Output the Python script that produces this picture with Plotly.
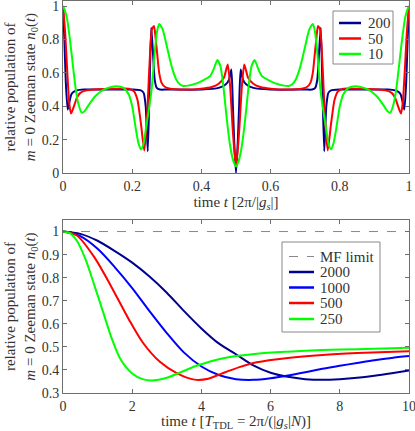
import plotly.graph_objects as go

# ---- top panel: n0(t) over one period, N = 200, 50, 10
t_200 = [0, 0.004, 0.008, 0.0135, 0.018, 0.024, 0.03, 0.04, 0.06, 0.1, 0.2, 0.225, 0.233, 0.239, 0.245, 0.25,
         0.255, 0.26, 0.265, 0.271, 0.28, 0.3, 0.4, 0.45, 0.47, 0.48, 0.4866, 0.491, 0.495, 0.5,
         0.505, 0.509, 0.5134, 0.52, 0.53, 0.55, 0.6, 0.7, 0.72, 0.729, 0.735, 0.74, 0.745, 0.75, 0.755,
         0.761, 0.767, 0.775, 0.8, 0.9, 0.94, 0.96, 0.97, 0.976, 0.982, 0.9865, 0.992, 0.996, 1.0]
n_200 = [1.0, 0.80, 0.55, 0.38, 0.42, 0.47, 0.485, 0.495, 0.5, 0.5, 0.5, 0.495, 0.48, 0.40, 0.13, 0.50,
         0.87, 0.72, 0.56, 0.51, 0.5, 0.5, 0.5, 0.51, 0.53, 0.56, 0.62, 0.40, 0.18, 0.0,
         0.18, 0.40, 0.62, 0.56, 0.53, 0.51, 0.5, 0.5, 0.5, 0.51, 0.56, 0.72, 0.87, 0.50, 0.13,
         0.40, 0.48, 0.495, 0.5, 0.5, 0.5, 0.495, 0.485, 0.47, 0.42, 0.38, 0.55, 0.80, 1.0]

t_50 = [0, 0.006, 0.012, 0.018, 0.023, 0.03, 0.04, 0.05, 0.068, 0.09, 0.15, 0.19, 0.205, 0.215, 0.225, 0.235,
        0.242, 0.25, 0.257, 0.263, 0.268, 0.272, 0.278, 0.285, 0.295, 0.31, 0.35, 0.4, 0.43, 0.45, 0.465,
        0.476, 0.483, 0.49, 0.495, 0.5,
        0.505, 0.51, 0.517, 0.524, 0.535, 0.55, 0.57, 0.6, 0.65, 0.69, 0.705, 0.715, 0.722, 0.728, 0.732,
        0.737, 0.743, 0.75, 0.758, 0.765, 0.775, 0.785, 0.795, 0.81, 0.85, 0.91, 0.932, 0.95, 0.96, 0.97,
        0.977, 0.982, 0.988, 0.994, 1.0]
n_50 = [1.0, 0.85, 0.62, 0.42, 0.357, 0.39, 0.45, 0.48, 0.495, 0.5, 0.505, 0.505, 0.49, 0.44, 0.30, 0.135,
        0.30, 0.65, 0.86, 0.88, 0.80, 0.72, 0.60, 0.54, 0.515, 0.505, 0.5, 0.505, 0.515, 0.535, 0.57,
        0.65, 0.52, 0.28, 0.14, 0.05,
        0.14, 0.28, 0.52, 0.65, 0.57, 0.535, 0.515, 0.505, 0.5, 0.505, 0.515, 0.54, 0.60, 0.72, 0.80,
        0.88, 0.86, 0.65, 0.30, 0.135, 0.30, 0.44, 0.49, 0.505, 0.505, 0.5, 0.495, 0.48, 0.45, 0.39,
        0.357, 0.42, 0.62, 0.85, 1.0]

t_10 = [0, 0.006, 0.012, 0.02, 0.03, 0.037, 0.045, 0.054, 0.062, 0.075, 0.092, 0.11, 0.13, 0.155, 0.175,
        0.19, 0.2, 0.21, 0.218, 0.225, 0.232, 0.24, 0.256, 0.265, 0.272, 0.278, 0.288, 0.3, 0.309, 0.318,
        0.328, 0.338, 0.348, 0.365, 0.386, 0.405, 0.425, 0.437, 0.446, 0.455, 0.463, 0.47, 0.478, 0.485,
        0.492, 0.5,
        0.508, 0.515, 0.522, 0.53, 0.537, 0.545, 0.554, 0.563, 0.575, 0.595, 0.614, 0.635, 0.652, 0.662,
        0.672, 0.682, 0.691, 0.7, 0.712, 0.722, 0.728, 0.735, 0.744, 0.76, 0.768, 0.775, 0.782, 0.79, 0.8,
        0.81, 0.825, 0.845, 0.87, 0.89, 0.908, 0.925, 0.938, 0.946, 0.955, 0.963, 0.97, 0.98, 0.988,
        0.994, 1.0]
n_10 = [1.0, 0.97, 0.92, 0.80, 0.62, 0.50, 0.41, 0.362, 0.37, 0.41, 0.457, 0.49, 0.51, 0.52, 0.51,
        0.47, 0.40, 0.27, 0.18, 0.142, 0.17, 0.27, 0.50, 0.72, 0.85, 0.893, 0.86, 0.76, 0.68, 0.61,
        0.557, 0.53, 0.521, 0.525, 0.537, 0.555, 0.58, 0.63, 0.677, 0.64, 0.53, 0.39, 0.24, 0.14,
        0.075, 0.04,
        0.075, 0.14, 0.24, 0.39, 0.53, 0.64, 0.677, 0.63, 0.58, 0.555, 0.537, 0.525, 0.521, 0.53,
        0.557, 0.61, 0.68, 0.76, 0.86, 0.893, 0.85, 0.72, 0.50, 0.27, 0.17, 0.142, 0.18, 0.27, 0.40,
        0.47, 0.51, 0.52, 0.51, 0.49, 0.457, 0.41, 0.37, 0.362, 0.41, 0.50, 0.62, 0.80, 0.92,
        0.97, 1.0]

# ---- bottom panel: decay in units of T_TDL, N = 2000, 1000, 500, 250
T_2000 = [0, 0.5, 1, 1.5, 2, 2.5, 3, 3.5, 4, 4.5, 5, 5.5, 6, 6.5, 7, 7.5, 8, 8.5, 9, 9.5, 10]
n_2000 = [1.0, 0.99, 0.96, 0.915, 0.865, 0.805, 0.735, 0.655, 0.58, 0.515, 0.468, 0.42, 0.388, 0.37,
          0.36, 0.357, 0.36, 0.366, 0.375, 0.386, 0.398]
T_1000 = [0, 0.5, 1, 1.5, 2, 2.5, 3, 3.5, 4, 4.5, 5, 5.5, 6, 6.5, 7, 7.5, 8, 8.5, 9, 9.5, 10]
n_1000 = [1.0, 0.98, 0.925, 0.845, 0.755, 0.655, 0.56, 0.475, 0.415, 0.378, 0.36, 0.357, 0.364, 0.376,
          0.39, 0.405, 0.418, 0.43, 0.442, 0.452, 0.46]
T_500 = [0, 0.4, 0.9, 1.4, 1.9, 2.3, 2.8, 3.3, 3.8, 4.2, 4.6, 5.1, 5.6, 6.5, 7.5, 8.5, 10]
n_500 = [1.0, 0.983, 0.89, 0.76, 0.62, 0.52, 0.435, 0.385, 0.358, 0.362, 0.385, 0.412, 0.433, 0.452,
         0.465, 0.473, 0.481]
T_250 = [0, 0.2, 0.4, 0.65, 0.9, 1.15, 1.4, 1.65, 2.0, 2.3, 2.65, 3.0, 3.4, 3.9, 4.6, 5.6, 6.5, 7.5, 8.5, 10]
n_250 = [1.0, 0.993, 0.96, 0.88, 0.77, 0.655, 0.54, 0.45, 0.385, 0.36, 0.355, 0.366, 0.39, 0.42, 0.45,
         0.47, 0.479, 0.486, 0.49, 0.496]
T_mf = [0, 10]
n_mf = [1, 1]

NAVY, BLUE, RED, GREEN, MFGRAY = '#00008f', '#0000ff', '#ff0000', '#00ff00', '#888888'
FONT = 'Liberation Serif, DejaVu Serif, serif'
FRAME = '#6e6e6e'

W, H = 415, 431
ML, MR, MT, MB = 63, 6, 1, 38


def px(x):   # figure pixel -> paper x
    return (x - ML) / (W - ML - MR)


def py(y):   # figure pixel -> paper y
    return (H - MB - y) / (H - MT - MB)


top_series = [(t_200, n_200, '200', NAVY), (t_50, n_50, '50', RED), (t_10, n_10, '10', GREEN)]
bot_series = [(T_2000, n_2000, '2000', NAVY), (T_1000, n_1000, '1000', BLUE),
              (T_500, n_500, '500', RED), (T_250, n_250, '250', GREEN)]

fig = go.Figure()

for t, n, name, col in top_series:
    fig.add_trace(go.Scatter(x=t, y=n, mode='lines', name=name, xaxis='x', yaxis='y', showlegend=False,
                             line=dict(color=col, width=2, shape='spline', smoothing=0.6)))

fig.add_trace(go.Scatter(x=T_mf, y=n_mf, mode='lines', name='MF limit', xaxis='x2', yaxis='y2',
                         showlegend=False, line=dict(color=MFGRAY, width=1, dash='dash')))
for t, n, name, col in bot_series:
    fig.add_trace(go.Scatter(x=t, y=n, mode='lines', name=name, xaxis='x2', yaxis='y2', showlegend=False,
                             line=dict(color=col, width=2, shape='spline', smoothing=0.8)))

# hand-built legend boxes (matplotlib-style compact spacing)
shapes, annots = [], []


def legend_box(x0, y0, x1, y1, rows, line_x0, line_x1, text_x):
    shapes.append(dict(type='rect', xref='paper', yref='paper', x0=px(x0), x1=px(x1), y0=py(y1), y1=py(y0),
                       line=dict(color='#888888', width=1), fillcolor='white', layer='above'))
    for yy, name, col, dash, lw in rows:
        shapes.append(dict(type='line', xref='paper', yref='paper', x0=px(line_x0), x1=px(line_x1),
                           y0=py(yy), y1=py(yy), line=dict(color=col, width=lw, dash=dash), layer='above'))
        annots.append(dict(xref='paper', yref='paper', x=px(text_x), y=py(yy), text=name, showarrow=False,
                           xanchor='left', yanchor='middle', font=dict(family=FONT, size=15, color='#333')))


legend_box(333, 11, 393, 64,
           [(23, '200', NAVY, 'solid', 2.5), (38.5, '50', RED, 'solid', 2.5), (54, '10', GREEN, 'solid', 2.5)],
           339, 361, 366)
legend_box(282, 242, 380, 332,
           [(256.5, 'MF limit', MFGRAY, 'dash', 1), (272, '2000', NAVY, 'solid', 2.5),
            (287.5, '1000', BLUE, 'solid', 2.5), (303, '500', RED, 'solid', 2.5),
            (319, '250', GREEN, 'solid', 2.5)],
           289, 314, 318)

axis_common = dict(showline=True, linecolor=FRAME, linewidth=1, mirror='ticks', ticks='inside',
                   ticklen=4, tickcolor=FRAME, showgrid=False, zeroline=False, automargin=False,
                   ticklabeloverflow='allow',
                   tickfont=dict(family=FONT, size=14, color='#333'))
ytitle = 'relative population of<br><i>m</i> = 0 Zeeman state <i>n</i><sub>0</sub>(<i>t</i>)'

fig.update_layout(
    width=W, height=H,
    margin=dict(l=ML, r=MR, t=MT, b=MB),
    plot_bgcolor='white', paper_bgcolor='white',
    font=dict(family=FONT, size=14, color='#333'),
    showlegend=False,
    shapes=shapes, annotations=annots,
    xaxis=dict(axis_common, domain=[0, 1], range=[0, 1], anchor='y',
               tickvals=[0, 0.2, 0.4, 0.6, 0.8, 1], ticktext=['0', '0.2', '0.4', '0.6', '0.8', '1'],
               title=dict(text='time <i>t</i> [2π/|<i>g<sub>s</sub></i>|]', standoff=3,
                          font=dict(family=FONT, size=15))),
    yaxis=dict(axis_common, domain=[0.561, 1], range=[0, 1.03], anchor='x',
               tickvals=[0, 0.2, 0.4, 0.6, 0.8, 1], ticktext=['0', '0.2', '0.4', '0.6', '0.8', '1'],
               title=dict(text=ytitle, standoff=2, font=dict(family=FONT, size=15))),
    xaxis2=dict(axis_common, domain=[0, 1], range=[0, 10], anchor='y2',
                tickvals=[0, 2, 4, 6, 8, 10],
                title=dict(text='time <i>t</i> [<i>T</i><sub>TDL</sub> = 2π/(|<i>g<sub>s</sub></i>|<i>N</i>)]',
                           standoff=3, font=dict(family=FONT, size=15))),
    yaxis2=dict(axis_common, domain=[0, 0.4413], range=[0.3, 1.05], anchor='x2',
                tickvals=[0.3, 0.4, 0.5, 0.6, 0.7, 0.8, 0.9, 1],
                ticktext=['0.3', '0.4', '0.5', '0.6', '0.7', '0.8', '0.9', '1'],
                title=dict(text=ytitle, standoff=2, font=dict(family=FONT, size=15))),
)

# the page body has an 8px default margin; drop it so the figure sits at the window corner
fig.write_html("out.html", config={'displayModeBar': False},
               post_script="document.body.style.margin='0px';")
